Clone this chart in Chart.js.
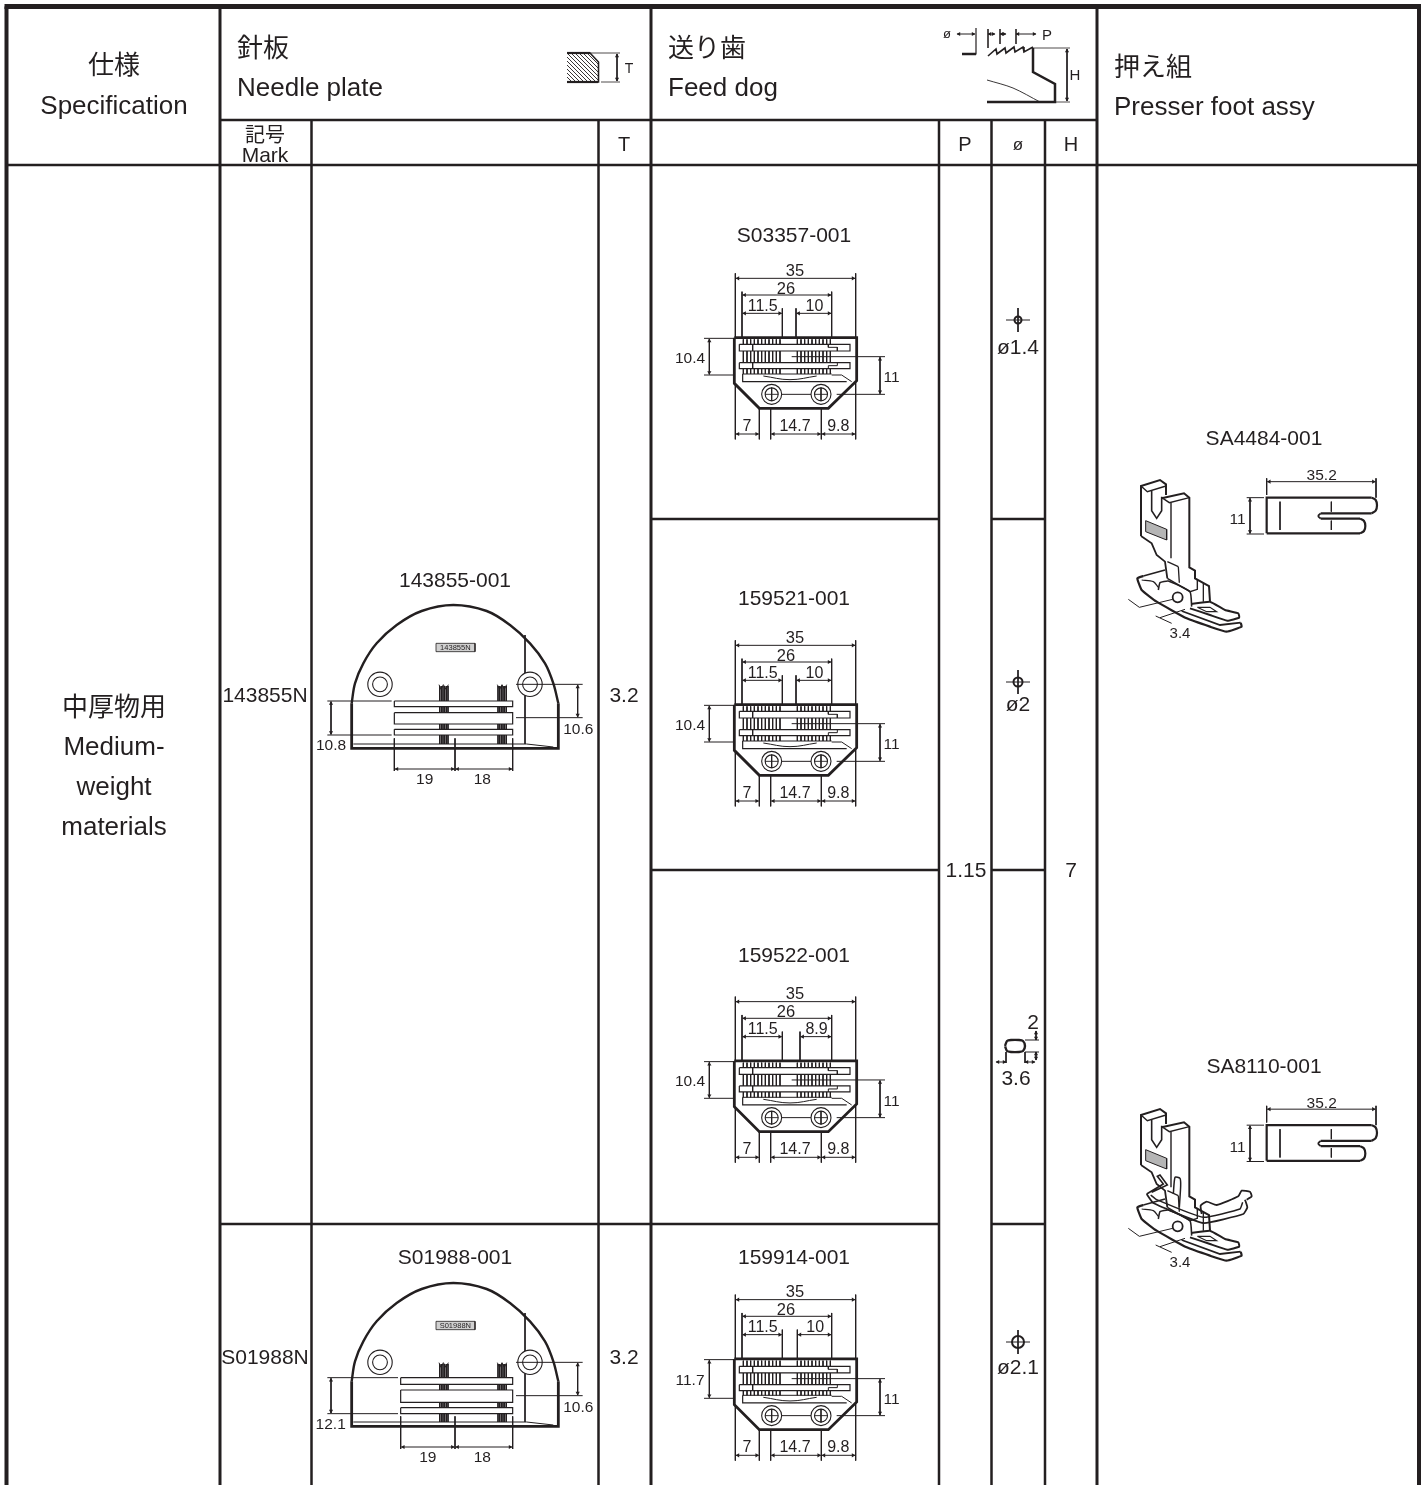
<!DOCTYPE html>
<html>
<head>
<meta charset="utf-8">
<title>Needle plate / feed dog table</title>
<script src="https://cdn.jsdelivr.net/npm/chart.js@4"></script>
<style>
    html, body { margin: 0; padding: 0; background: #fff; }
    canvas { display: block; }
</style>
</head>
<body>
<canvas id="sheet" width="1425" height="1485"></canvas>
<script>
// Table text
const specTitle = ['仕様', 'Specification'];
const plateTitle = ['針板', 'Needle plate'];
const dogTitle = ['送り歯', 'Feed dog'];
const footTitle = ['押え組', 'Presser foot assy'];
const subHeads = ['T', 'P', 'ø', 'H'];
const markHead = ['記号', 'Mark'];
const specRow = ['中厚物用', 'Medium-', 'weight', 'materials'];
const plateCodes = ['143855-001', 'S01988-001'];
const plateMarks = ['143855N', 'S01988N'];
const plateT = ['3.2', '3.2'];
const dogCodes = ['S03357-001', '159521-001', '159522-001', '159914-001'];
const dogP = '1.15';
const dogH = '7';
const holeLabels = ['ø1.4', 'ø2', '3.6', 'ø2.1'];
const dogRightDim = ['10', '10', '8.9', '10'];
const dogLeftDim = ['10.4', '10.4', '10.4', '11.7'];
const plateSlotDim = ['10.8', '12.1'];
const footCodes = ['SA4484-001', 'SA8110-001'];

// Table rules
const colEdges = [6.5, 220, 311.5, 598.5, 651, 939, 991.5, 1045, 1097, 1419];
const rowEdges = [6.5, 120, 165, 519, 870, 1224, 1485];

const ink = '#231f20';
const datasets = [];
const texts = [];

function stroke(points, width, extra) {
    const i = datasets.length;
    datasets.push(Object.assign({
        data: points.map(p => ({ x: p[0], y: p[1] })),
        borderColor: ink,
        borderWidth: width || 1,
        pointRadius: 0,
        fill: false,
        tension: 0,
        order: -i
    }, extra || {}));
}

function shape(points, width, color) {
    stroke(points.concat([points[0]]), width, { fill: 'shape', backgroundColor: color || '#fff' });
}

function circle(x, y, r, width, color) {
    const i = datasets.length;
    datasets.push({
        data: [{ x: x, y: y }],
        showLine: false,
        pointStyle: 'circle',
        pointRadius: r,
        pointBorderWidth: width || 1,
        pointBorderColor: ink,
        pointBackgroundColor: color || '#fff',
        order: -i
    });
}

// dimension line with an arrow head at both ends
function arrow(x1, y1, x2, y2) {
    stroke([[x1, y1], [x2, y2]], 1);
    const i = datasets.length;
    const a = Math.atan2(y2 - y1, x2 - x1) * 180 / Math.PI;
    const ux = Math.cos(a * Math.PI / 180) * 2;
    const uy = Math.sin(a * Math.PI / 180) * 2;
    datasets.push({
        data: [{ x: x1 + ux, y: y1 + uy }, { x: x2 - ux, y: y2 - uy }],
        showLine: false,
        pointStyle: 'triangle',
        pointRadius: 2.4,
        pointRotation: [a - 90, a + 90],
        pointBorderWidth: 0,
        pointBackgroundColor: ink,
        order: -i
    });
}

function label(text, x, y, size, align, family) {
    texts.push({ text: text, x: x, y: y, size: size, align: align || 'center', family: family });
}

const cjk = '"Noto Sans CJK JP"';

// ---- table frame ----
function drawTable() {
    const c = colEdges, r = rowEdges;
    stroke([[c[0] - 2, r[0]], [c[9] + 2, r[0]]], 5);
    stroke([[c[0], r[0]], [c[0], r[6]]], 4);
    stroke([[c[9], r[0]], [c[9], r[6]]], 4);
    stroke([[c[1], r[0]], [c[1], r[6]]], 3);
    stroke([[c[4], r[0]], [c[4], r[6]]], 3);
    stroke([[c[8], r[0]], [c[8], r[6]]], 3);
    [2, 3, 5, 6, 7].forEach(k => stroke([[c[k], r[1]], [c[k], r[6]]], 2.5));
    stroke([[c[1], r[1]], [c[8], r[1]]], 2.5);
    stroke([[c[0], r[2]], [c[9], r[2]]], 2.5);
    stroke([[c[4], r[3]], [c[5], r[3]]], 2.5);
    stroke([[c[6], r[3]], [c[7], r[3]]], 2.5);
    stroke([[c[4], r[4]], [c[5], r[4]]], 2.5);
    stroke([[c[6], r[4]], [c[7], r[4]]], 2.5);
    stroke([[c[1], r[5]], [c[5], r[5]]], 2.5);
    stroke([[c[6], r[5]], [c[7], r[5]]], 2.5);
}

function drawTableText() {
    label(specTitle[0], 114, 64, 26, 'center', cjk);
    label(specTitle[1], 114, 105, 26);
    label(plateTitle[0], 237, 47, 26, 'left', cjk);
    label(plateTitle[1], 237, 87, 26, 'left');
    label(dogTitle[0], 668, 47, 26, 'left', cjk);
    label(dogTitle[1], 668, 87, 26, 'left');
    label(footTitle[0], 1114, 66, 26, 'left', cjk);
    label(footTitle[1], 1114, 106, 26, 'left');
    label(markHead[0], 265, 134, 20, 'center', cjk);
    label(markHead[1], 265, 155, 21);
    label(subHeads[0], 624, 144, 20);
    label(subHeads[1], 965, 144, 20);
    label(subHeads[2], 1018, 144, 17);
    label(subHeads[3], 1071, 144, 20);
    label(specRow[0], 114, 706, 26, 'center', cjk);
    label(specRow[1], 114, 746, 26);
    label(specRow[2], 114, 786, 26);
    label(specRow[3], 114, 826, 26);
    label(plateCodes[0], 455, 580, 21);
    label(plateCodes[1], 455, 1257, 21);
    label(plateMarks[0], 265, 695, 21);
    label(plateMarks[1], 265, 1357, 21);
    label(plateT[0], 624, 695, 21);
    label(plateT[1], 624, 1357, 21);
    label(dogCodes[0], 794, 235, 21);
    label(dogCodes[1], 794, 598, 21);
    label(dogCodes[2], 794, 955, 21);
    label(dogCodes[3], 794, 1257, 21);
    label(dogP, 966, 870, 21);
    label(dogH, 1071, 870, 21);
    label(footCodes[0], 1264, 438, 21);
    label(footCodes[1], 1264, 1066, 21);
}

// ---- header icons ----
function drawHeaderIcons() {
    // needle plate section
    stroke([[567, 53], [590, 53], [598.5, 62], [598.5, 82], [567, 82]], 1.6);
    [[567, 53, 596, 82], [571, 53, 598, 80], [575, 53, 598, 76], [579, 53, 598, 72], [583, 53, 598, 68], [587, 53, 598, 64],
     [567, 57, 592, 82], [567, 61, 588, 82], [567, 65, 584, 82], [567, 69, 580, 82], [567, 73, 576, 82], [567, 77, 572, 82]]
        .forEach(l => stroke([[l[0], l[1]], [l[2], l[3]]], 0.9));
    stroke([[567, 53], [590, 53]], 2.2);
    stroke([[567, 82], [598, 82]], 2.2);
    stroke([[589, 53], [620, 53]], 0.8);
    stroke([[601, 82], [620, 82]], 0.8);
    arrow(617, 54, 617, 81);
    label(subHeads[0], 629, 68, 14);

    // feed dog section
    label(subHeads[2], 947, 34, 13);
    label(subHeads[1], 1047, 35, 15);
    arrow(957, 34, 975, 34);
    arrow(988, 34, 995, 34);
    arrow(1000, 34, 1006, 34);
    arrow(1016, 34, 1036, 34);
    stroke([[976, 28], [976, 54], [962, 54]], 1.2);
    stroke([[962, 54], [976, 54]], 2.5);
    stroke([[988, 29], [988, 48]], 0.8);
    stroke([[1000, 29], [1000, 44]], 0.8);
    stroke([[1016, 29], [1016, 44]], 0.8);
    stroke([[988, 56], [996, 49], [997, 54], [1005, 48], [1006, 53], [1014, 47], [1015, 52], [1023, 47], [1024, 52], [1033, 47]], 1.6);
    stroke([[1033, 48], [1033, 72], [1055, 84], [1055, 102], [987, 102]], 2.5);
    stroke([[987, 80], [1013, 88], [1040, 102]], 0.9, { tension: 0.3 });
    stroke([[1033, 48], [1070, 48]], 0.8);
    stroke([[1056, 102], [1070, 102]], 0.8);
    arrow(1067, 49, 1067, 101);
    label(subHeads[3], 1075, 75, 15);
}

// ---- feed dog ----
const dogTeethLeft = [250, 261, 272, 283, 294, 305, 316, 327, 338, 349, 360];
const dogTeethRight = [412, 423, 434, 445, 456, 467, 478, 489, 500, 511];

function drawFeedDog(ox, oy, rightX, rightDim, leftDim, leftBottom, slotDy) {
    const at = p => [ox + p[0] / 3, oy + p[1] / 3];
    const line = (pts, w, extra) => stroke(pts.map(at), w, extra);
    const text = (t, x, y, size) => { const p = at([x, y]); label(t, p[0], p[1], size || 15.5); };
    const dim = (x1, y1, x2, y2) => { const a = at([x1, y1]), b = at([x2, y2]); arrow(a[0], a[1], b[0], b[1]); };

    // dimension lines
    line([[226, 70], [226, 265]], 1);
    line([[587, 70], [587, 265]], 1);
    line([[246, 125], [246, 265]], 1);
    line([[515, 125], [515, 265]], 1);
    line([[367, 175], [367, 265]], 1);
    line([[rightX, 175], [rightX, 265]], 1);
    dim(228, 85, 585, 85);
    dim(248, 135, 513, 135);
    dim(248, 190, 365, 190);
    dim(rightX + 2, 190, 513, 190);
    text('35', 405, 60, 16.5);
    text('26', 378, 114, 16.5);
    text('11.5', 308, 167, 16);
    text(rightDim, (rightX + 515) / 2 + 2, 165, 16);

    line([[132, 265], [220, 265]], 1);
    line([[132, leftBottom], [220, leftBottom]], 1);
    dim(148, 267, 148, leftBottom - 2);
    text(leftDim, 90, (265 + leftBottom) / 2 + 2, 15.5);

    line([[395, 320 + slotDy], [675, 320 + slotDy]], 1);
    line([[530, 433], [675, 433]], 1);
    dim(660, 322 + slotDy, 660, 431);
    text('11', 695, 381, 15.5);

    line([[226, 400], [226, 568]], 1);
    line([[298, 475], [298, 568]], 1);
    line([[332, 475], [332, 568]], 1);
    line([[484, 475], [484, 568]], 1);
    line([[587, 395], [587, 568]], 1);
    dim(228, 552, 296, 552);
    dim(334, 552, 482, 552);
    dim(486, 552, 585, 552);
    text('7', 261, 525, 16);
    text('14.7', 405, 526, 16);
    text('9.8', 535, 526, 16);

    // teeth
    dogTeethLeft.concat(dogTeethRight).forEach(x => {
        line([[x, 268], [x, 283 + slotDy]], 1);
        line([[x, 303 + slotDy], [x, 338 + slotDy]], 1);
        line([[x, 356 + slotDy], [x, 372]], 1);
    });

    // rails
    shape([[238, 283 + slotDy], [570, 283 + slotDy], [570, 303 + slotDy], [238, 303 + slotDy]].map(at), 1.2);
    shape([[238, 338 + slotDy], [570, 338 + slotDy], [570, 356 + slotDy], [238, 356 + slotDy]].map(at), 1.2);
    line([[278, 283 + slotDy], [278, 303 + slotDy]], 1);
    line([[278, 338 + slotDy], [278, 356 + slotDy]], 1);
    line([[505, 283 + slotDy], [505, 292 + slotDy], [532, 292 + slotDy], [532, 303 + slotDy]], 1);
    line([[505, 356 + slotDy], [505, 347 + slotDy], [532, 347 + slotDy], [532, 338 + slotDy]], 1);

    // lower part
    line([[248, 372], [515, 372]], 1);
    line([[248, 372], [248, 395], [560, 395]], 1.2);
    line([[515, 375], [545, 375], [575, 395]], 1);
    line([[310, 378], [390, 389], [470, 378]], 1, { tension: 0.4 });
    line([[365, 433], [455, 433]], 1);
    [335, 483].forEach(x => {
        const c = at([x, 433]);
        circle(c[0], c[1], 10, 1.1);
        circle(c[0], c[1], 6.5, 1.1);
        line([[x, 413], [x, 453]], 0.9);
        line([[x - 20, 433], [x + 20, 433]], 0.9);
    });

    // outline
    line([[223, 263], [590, 263], [590, 392], [505, 475], [298, 475], [223, 400], [223, 263]], 2.8);
}

// hole symbol above its diameter text
function drawHoleCross(x, y, r, width) {
    stroke([[x - 12, y], [x + 12, y]], 1);
    stroke([[x, y - 12], [x, y + 12]], 1);
    circle(x, y, r, width, 'rgba(255,255,255,0)');
}

function drawHoleSymbols() {
    drawHoleCross(1018, 320, 3.5, 2);
    label(holeLabels[0], 1018, 347, 21);
    drawHoleCross(1018, 682, 4.5, 2);
    label(holeLabels[1], 1018, 704, 21);
    // slot shaped hole
    stroke([[1005, 1046], [1007, 1041], [1011, 1040], [1019, 1040], [1023, 1041], [1025, 1046], [1023, 1051], [1019, 1052], [1011, 1052], [1007, 1051], [1005, 1046]], 2.4, { tension: 0.25 });
    stroke([[1025, 1040], [1039, 1040]], 1);
    stroke([[1025, 1052], [1039, 1052]], 1);
    stroke([[1006, 1052], [1006, 1063]], 1);
    stroke([[1025, 1052], [1025, 1063]], 1);
    arrow(996, 1062, 1006, 1062);
    arrow(1025, 1062, 1035, 1062);
    arrow(1036, 1031, 1036, 1040);
    arrow(1036, 1052, 1036, 1060);
    label('2', 1033, 1022, 21);
    label(holeLabels[2], 1016, 1078, 21);
    drawHoleCross(1018, 1342, 6, 2);
    label(holeLabels[3], 1018, 1367, 21);
}

// ---- needle plate ----
const plateArc = [[125, 310], [135, 250], [160, 190], [200, 130], [260, 75], [335, 33], [430, 15], [530, 33], [600, 75], [660, 130], [705, 190], [730, 250], [745, 310]];
const plateTeeth = [389, 394, 399, 404, 409, 414, 564, 569, 574, 579, 584, 589];

function drawPlate(ox, oy, slotLeft, slots, mark, slotDim, dimX, dimY) {
    const at = p => [ox + p[0] / 3, oy + p[1] / 3];
    const line = (pts, w, extra) => stroke(pts.map(at), w, extra);
    const text = (t, x, y, size) => { const p = at([x, y]); label(t, p[0], p[1], size || 15.5); };
    const dim = (x1, y1, x2, y2) => { const a = at([x1, y1]), b = at([x2, y2]); arrow(a[0], a[1], b[0], b[1]); };

    line(plateArc, 2.4, { tension: 0.35 });
    line([[125, 310], [125, 445], [745, 445], [745, 310]], 2.8);
    line([[130, 432], [650, 432], [730, 441]], 1);
    line([[645, 105], [645, 432]], 1);

    [210, 660].forEach(x => {
        const c = at([x, 253]);
        circle(c[0], c[1], 12.2, 1.1);
        circle(c[0], c[1], 7.4, 1.1);
    });

    // teeth behind the slots
    plateTeeth.forEach(x => line([[x, 258], [x, 432]], 1));
    line([[387, 254], [393, 268], [400, 254], [408, 268], [415, 254]], 1);
    line([[562, 254], [569, 268], [576, 254], [583, 268], [590, 254]], 1);

    slots.forEach(s => {
        shape([[slotLeft, s[0]], [608, s[0]], [608, s[1]], [slotLeft, s[1]]].map(at), 1.2);
    });

    // mark box
    shape([[378, 130], [495, 130], [495, 155], [378, 155]].map(at), 0.8, '#d0d0d0');
    text(mark, 436, 143, 7.5);

    // dimensions
    const top = slots[0][0], bot = slots[2][1];
    const leftEnd = slotLeft - 8;
    line([[52, top], [leftEnd, top]], 1);
    line([[52, bot], [leftEnd, bot]], 1);
    dim(63, top + 2, 63, bot - 2);
    text(slotDim, dimX, dimY, 15.5);

    line([[618, 253], [818, 253]], 1);
    line([[618, 353], [818, 353]], 1);
    dim(803, 255, 803, 351);
    text('10.6', 805, 385, 15.5);

    line([[slotLeft, 415], [slotLeft, 513]], 1);
    line([[435, 415], [435, 513]], 1);
    line([[608, 415], [608, 513]], 1);
    dim(slotLeft + 2, 507, 433, 507);
    dim(437, 507, 606, 507);
    text('19', (slotLeft + 435) / 2, 536, 15.5);
    text('18', 517, 536, 15.5);
}

// ---- presser foot ----
function drawFootPlan(ox, oy) {
    const at = p => [ox + p[0] / 3, oy + p[1] / 3];
    const line = (pts, w, extra) => stroke(pts.map(at), w, extra);
    const dim = (x1, y1, x2, y2) => { const a = at([x1, y1]), b = at([x2, y2]); arrow(a[0], a[1], b[0], b[1]); };

    line([[470, 250], [470, 143], [785, 143]], 2.2);
    line([[785, 143], [797, 150], [801, 166], [797, 182], [785, 190]], 2.2, { tension: 0.3 });
    line([[785, 190], [632, 190]], 2.2);
    line([[632, 190], [625, 198], [632, 206]], 1.8, { tension: 0.5 });
    line([[632, 206], [750, 206]], 2.2);
    line([[750, 206], [762, 213], [766, 228], [762, 243], [750, 250]], 2.2, { tension: 0.3 });
    line([[750, 250], [470, 250]], 2.2);
    line([[510, 155], [510, 240]], 1);
    line([[664, 155], [664, 185]], 1);
    line([[664, 212], [664, 240]], 1);

    line([[470, 85], [470, 135]], 1);
    line([[798, 85], [798, 143]], 1);
    dim(472, 95, 796, 95);
    line([[410, 143], [462, 143]], 1);
    line([[410, 252], [462, 252]], 1);
    dim(420, 145, 420, 250);
    const a = at([635, 74]), b = at([383, 207]);
    label('35.2', a[0], a[1], 15.5);
    label('11', b[0], b[1], 15.5);
}

function drawFoot(ox, oy, withGuard) {
    const at = p => [ox + p[0] / 3, oy + p[1] / 3];
    const line = (pts, w, extra) => stroke(pts.map(at), w, extra);

    // shank
    line([[93, 258], [93, 108], [150, 90], [168, 103], [168, 135]], 2);
    line([[93, 108], [112, 125], [168, 108]], 1.4);
    line([[125, 123], [125, 182], [140, 205], [155, 182], [155, 140]], 1.6);
    line([[155, 145], [222, 130], [238, 143], [238, 352], [255, 362], [255, 385], [297, 408], [300, 455]], 2);
    line([[160, 146], [178, 158], [238, 143]], 1.4);
    line([[183, 158], [183, 325]], 1.4);
    line([[93, 258], [125, 280], [140, 315], [165, 335], [172, 385]], 1.8);

    // mark plate
    shape([[107, 212], [170, 238], [170, 270], [107, 245]].map(at), 1, '#b5b5b5');

    // sole and toes
    line([[100, 378], [165, 360]], 1.8);
    line([[100, 378], [82, 385], [95, 420], [140, 455], [230, 505], [300, 530], [350, 545], [395, 530], [392, 518]], 2.2, { tension: 0.12 });
    line([[95, 390], [130, 395], [145, 412]], 1.2, { tension: 0.3 });
    line([[145, 420], [150, 398], [175, 393], [240, 425], [245, 470]], 1.6, { tension: 0.15 });
    line([[172, 385], [240, 425], [262, 418], [262, 390]], 1.4);
    line([[205, 350], [208, 398]], 1.3);
    line([[172, 335], [205, 350]], 1.3);
    line([[280, 400], [280, 455]], 1.3);
    line([[245, 462], [300, 455], [345, 480], [385, 490], [388, 503], [352, 512], [300, 495], [240, 475]], 2, { tension: 0.1 });
    shape([[262, 472], [300, 472], [320, 485], [290, 485]].map(at), 1.1);
    line([[215, 483], [330, 525], [392, 518]], 1.8);
    const hole = at([203, 442]);
    circle(hole[0], hole[1], 5, 1.8);

    // pitch dimension
    line([[55, 448], [88, 472], [188, 448]], 1);
    line([[137, 498], [185, 520]], 1);
    line([[150, 503], [225, 478]], 1);
    const t = at([210, 548]);
    label('3.4', t[0], t[1], 15);

    if (withGuard) {
        line([[110, 345], [160, 315], [142, 292], [150, 288], [172, 318], [125, 340]], 1.6);
        line([[190, 345], [195, 295], [210, 298], [212, 320], [208, 385]], 1.5, { tension: 0.2 });
        line([[110, 345], [130, 372], [280, 432], [400, 405], [412, 385], [405, 362]], 1.8, { tension: 0.12 });
        line([[122, 348], [140, 362], [280, 415], [390, 390], [398, 370]], 1.5, { tension: 0.12 });
        line([[275, 405], [272, 380], [290, 368], [320, 378], [385, 352], [395, 335], [420, 338], [425, 352], [410, 362]], 1.8, { tension: 0.15 });
    }
}

function buildDatasets() {
    drawTable();
    drawTableText();
    drawHeaderIcons();
    drawFeedDog(660, 250, 408, dogRightDim[0], dogLeftDim[0], 375, 0);
    drawFeedDog(660, 617, 408, dogRightDim[1], dogLeftDim[1], 375, 0);
    drawFeedDog(660, 973.3, 420, dogRightDim[2], dogLeftDim[2], 375, 0);
    drawFeedDog(660, 1271.3, 412, dogRightDim[3], dogLeftDim[3], 381, 2);
    drawHoleSymbols();
    drawPlate(310, 600, 253, [[303, 320], [338, 372], [388, 405]], plateMarks[0], plateSlotDim[0], 63, 435);
    drawPlate(310, 1278, 272, [[299, 319], [336, 373], [389, 407]], plateMarks[1], plateSlotDim[1], 62, 438);
    drawFootPlan(1110, 450);
    drawFoot(1110, 450, false);
    drawFootPlan(1110, 1077.5);
    drawFoot(1110, 1079, true);
}

// texts go on the canvas after the datasets, placed through the scales
const textPlugin = {
    id: 'sheetText',
    afterDatasetsDraw(chart) {
        const ctx = chart.ctx;
        ctx.save();
        ctx.fillStyle = ink;
        ctx.textBaseline = 'middle';
        texts.forEach(t => {
            // Liberation sits a little high on the middle baseline
            const nudge = t.family ? 0 : t.size * 0.07;
            ctx.font = t.size + 'px ' + (t.family || '"Liberation Sans", Arial, sans-serif');
            ctx.textAlign = t.align;
            ctx.fillText(t.text, chart.scales.x.getPixelForValue(t.x), chart.scales.y.getPixelForValue(t.y) + nudge);
        });
        ctx.restore();
    }
};

buildDatasets();

new Chart(document.getElementById('sheet'), {
    type: 'scatter',
    data: { datasets: datasets.map(d => Object.assign({ showLine: true }, d)) },
    options: {
        responsive: false,
        animation: false,
        devicePixelRatio: 1,
        layout: { padding: 0, autoPadding: false },
        plugins: { legend: { display: false }, tooltip: { enabled: false } },
        events: [],
        scales: {
            x: { type: 'linear', display: false, min: 0, max: 1425 },
            y: { type: 'linear', display: false, min: 0, max: 1485, reverse: true }
        }
    },
    plugins: [textPlugin]
});
</script>
</body>
</html>
